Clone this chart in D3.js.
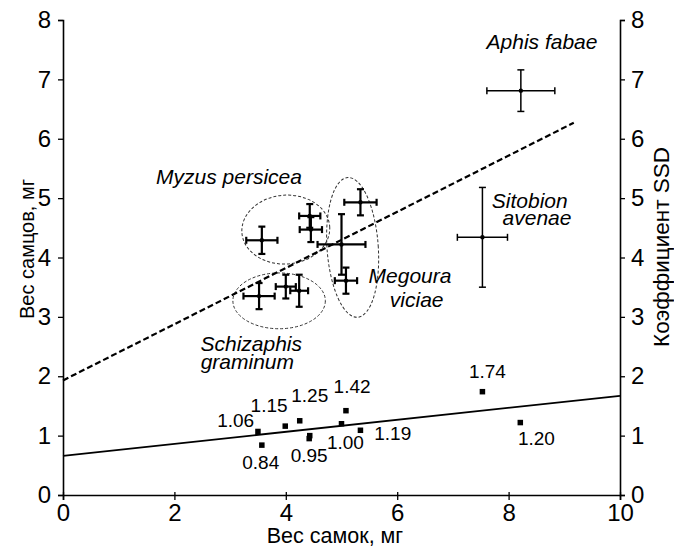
<!DOCTYPE html>
<html>
<head>
<meta charset="utf-8">
<script src="https://cdn.jsdelivr.net/npm/d3@7"></script>
<style>
  body { margin: 0; background: #fff; }
  svg text { font-family: "Liberation Sans", Arial, sans-serif; fill: #000; }
</style>
</head>
<body>
<div class="container"></div>
<script>
// female weight (x), male weight (y) and their errors, mg
const femaleW = [8.22, 7.53, 3.57, 4.43, 4.45, 5.00, 5.34, 5.08, 3.52, 4.00, 4.24];
const femaleErr = [0.61, 0.45, 0.28, 0.19, 0.20, 0.43, 0.29, 0.20, 0.28, 0.18, 0.16];
const maleW = [6.81, 4.34, 4.29, 4.70, 4.47, 4.22, 4.93, 3.61, 3.35, 3.51, 3.44];
const maleErr = [0.35, 0.84, 0.23, 0.20, 0.21, 0.51, 0.22, 0.22, 0.22, 0.20, 0.27];
const boldCross = [false, false, true, true, true, true, true, true, true, true, true];

// SSD coefficient points
const ssdX = [3.50, 3.57, 3.99, 4.25, 4.43, 4.42, 5.00, 5.08, 5.34, 7.53, 8.21];
const ssdY = [1.07, 0.84, 1.16, 1.25, 1.00, 0.95, 1.20, 1.42, 1.09, 1.74, 1.22];

// labels of SSD values
const ssdText = ["1.06", "1.15", "1.25", "1.42", "1.74", "0.84", "0.95", "1.00", "1.19", "1.20"];

// regression lines
const fitMales = [[0, 1.93], [9.17, 6.27]];
const fitSSD = [[0, 0.66], [10, 1.67]];

const xTicks = [0, 2, 4, 6, 8, 10];
const yTicks = [0, 1, 2, 3, 4, 5, 6, 7, 8];

const width = 674, height = 548;
const mLeft = 63, mRight = 620, mTop = 20, mBottom = 495;

const x = d3.scaleLinear().domain([0, 10]).range([mLeft, mRight]);
const y = d3.scaleLinear().domain([0, 8]).range([mBottom, mTop]);

const svg = d3.select("div.container").append("svg")
  .attr("width", width).attr("height", height);

// axes
const tickFs = "24px";
const gx = svg.append("g").attr("transform", `translate(0,${mBottom})`)
  .call(d3.axisBottom(x).tickValues(xTicks).tickSize(5).tickPadding(4).tickFormat(d3.format("d")));
const gy = svg.append("g").attr("transform", `translate(${mLeft},0)`)
  .call(d3.axisLeft(y).tickValues(yTicks).tickSize(5).tickPadding(7).tickFormat(d3.format("d")));
const gy2 = svg.append("g").attr("transform", `translate(${mRight},0)`)
  .call(d3.axisRight(y).tickValues(yTicks).tickSize(5).tickPadding(6).tickFormat(d3.format("d")));
[gx, gy, gy2].forEach(g => {
  g.select(".domain").attr("stroke", "#000").attr("stroke-width", 1.6);
  g.selectAll(".tick line").attr("stroke", "#000").attr("stroke-width", 1.3);
  g.selectAll(".tick text").style("font-size", tickFs).attr("fill", "#000");
});
gx.selectAll(".tick line").attr("y1", -3);

// axis titles
svg.append("text").attr("x", 335).attr("y", 543)
  .attr("text-anchor", "middle").style("font-size", "21.5px").text("Вес самок, мг");
svg.append("text").attr("transform", "translate(27,249) rotate(-90)")
  .attr("text-anchor", "middle").attr("dy", "0.35em").style("font-size", "20px").text("Вес самцов, мг");
svg.append("text").attr("transform", "translate(661,247) rotate(-90)")
  .attr("text-anchor", "middle").attr("dy", "0.35em").style("font-size", "22.5px").text("Коэффициент SSD");

// group ellipses
const groups = [
  { cx: 4.0, cy: 4.47, rx: 0.79, ry: 0.58, rot: -4 },
  { cx: 3.88, cy: 3.27, rx: 0.83, ry: 0.47, rot: 0 },
  { cx: 5.2, cy: 4.17, rx: 0.46, ry: 1.18, rot: -4 }
];
svg.selectAll("ellipse.grp").data(groups).enter().append("ellipse")
  .attr("class", "grp")
  .attr("transform", d => `translate(${x(d.cx)},${y(d.cy)}) rotate(${d.rot})`)
  .attr("rx", d => x(d.cx + d.rx) - x(d.cx))
  .attr("ry", d => y(d.cy) - y(d.cy + d.ry))
  .attr("fill", "none").attr("stroke", "#333").attr("stroke-width", 1)
  .attr("stroke-dasharray", "3,2");

// regression lines
const line = d3.line().x(d => x(d[0])).y(d => y(d[1]));
svg.append("path").attr("d", line(fitMales)).attr("fill", "none")
  .attr("stroke", "#000").attr("stroke-width", 2.2).attr("stroke-dasharray", "6,3");
svg.append("path").attr("d", line(fitSSD)).attr("fill", "none")
  .attr("stroke", "#000").attr("stroke-width", 1.8);

// error-bar crosses
const crosses = femaleW.map((v, i) => ({ fx: v, fe: femaleErr[i], my: maleW[i], me: maleErr[i], bold: boldCross[i] }));
const cap = 3.5;
const cg = svg.selectAll("g.cross").data(crosses).enter().append("g").attr("class", "cross")
  .attr("stroke", "#000").attr("stroke-width", d => d.bold ? 2.2 : 1.5);
cg.append("line").attr("x1", d => x(d.fx - d.fe)).attr("x2", d => x(d.fx + d.fe))
  .attr("y1", d => y(d.my)).attr("y2", d => y(d.my));
cg.append("line").attr("x1", d => x(d.fx)).attr("x2", d => x(d.fx))
  .attr("y1", d => y(d.my - d.me)).attr("y2", d => y(d.my + d.me));
[-1, 1].forEach(s => {
  cg.append("line").attr("x1", d => x(d.fx + s * d.fe)).attr("x2", d => x(d.fx + s * d.fe))
    .attr("y1", d => y(d.my) - cap).attr("y2", d => y(d.my) + cap);
  cg.append("line").attr("y1", d => y(d.my + s * d.me)).attr("y2", d => y(d.my + s * d.me))
    .attr("x1", d => x(d.fx) - cap).attr("x2", d => x(d.fx) + cap);
});
svg.selectAll("circle.ctr").data(crosses).enter().append("circle").attr("class", "ctr")
  .attr("cx", d => x(d.fx)).attr("cy", d => y(d.my)).attr("r", 2.2).attr("fill", "#000");

// SSD squares
const sq = 5.5;
svg.selectAll("rect.ssd").data(ssdX).enter().append("rect").attr("class", "ssd")
  .attr("x", (d, i) => x(d) - sq / 2).attr("y", (d, i) => y(ssdY[i]) - sq / 2)
  .attr("width", sq).attr("height", sq).attr("fill", "#000");

// SSD value labels (centre x, baseline y in data units)
const labelPos = [[3.10, 1.15], [3.70, 1.39], [4.43, 1.56], [5.19, 1.72], [7.62, 1.97],
  [3.55, 0.43], [4.42, 0.55], [5.07, 0.77], [5.92, 0.93], [8.5, 0.84]];
svg.selectAll("text.ssdl").data(ssdText).enter().append("text").attr("class", "ssdl")
  .attr("x", (d, i) => x(labelPos[i][0])).attr("y", (d, i) => y(labelPos[i][1]))
  .attr("text-anchor", "middle").style("font-size", "19px").text(d => d);

// species names
const names = [
  ["Aphis fabae", 8.6, 7.51], ["Myzus persicea", 2.98, 5.23],
  ["Sitobion", 8.38, 4.84], ["avenae", 8.51, 4.55],
  ["Megoura", 6.23, 3.57], ["viciae", 6.35, 3.16],
  ["Schizaphis", 3.38, 2.42], ["graminum", 3.31, 2.13]
];
svg.selectAll("text.sp").data(names).enter().append("text").attr("class", "sp")
  .attr("x", d => x(d[1])).attr("y", d => y(d[2]))
  .attr("text-anchor", "middle").style("font-size", "21px").style("font-style", "italic")
  .text(d => d[0]);
</script>
</body>
</html>
